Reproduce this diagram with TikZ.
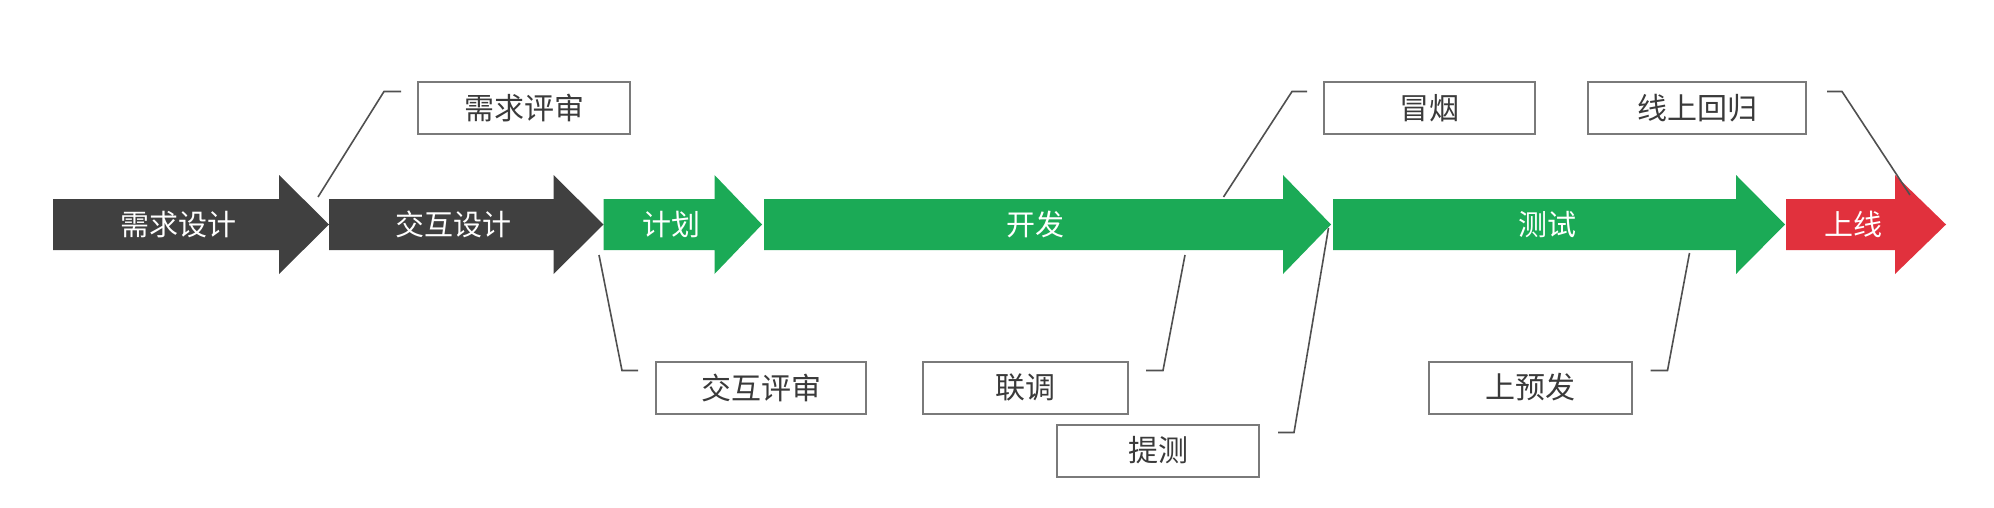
\documentclass[tikz,border=0pt]{standalone}
\usepackage{fontspec}
\setmainfont{Noto Sans CJK SC}
\usetikzlibrary{calc}
\definecolor{darkarrow}{HTML}{404040}
\definecolor{greenarrow}{HTML}{1BAA56}
\definecolor{redarrow}{HTML}{E1313D}
\definecolor{boxline}{HTML}{7A7A7A}
\definecolor{boxtext}{HTML}{3A3A3A}
\definecolor{leader}{HTML}{505050}
\tikzset{
  arrowtext/.style={text=white, font=\fontsize{29}{32}\selectfont, inner sep=0pt},
  labelbox/.style={draw=boxline, line width=2pt, fill=white, text=boxtext,
    font=\fontsize{30}{33}\selectfont, inner sep=0pt, minimum height=52pt},
  leaderline/.style={draw=leader, line width=1.6pt},
}
% arrow: #1 colour, #2 body start x, #3 head start x, #4 tip x
\newcommand{\flowarrow}[4]{%
  \fill[#1] (#2,199) -- (#3,199) -- (#3,175) -- (#4,224.5) -- (#3,274) -- (#3,250) -- (#2,250) -- cycle;}
\begin{document}
\begin{tikzpicture}[x=1pt,y=-1pt]
\useasboundingbox[fill=white] (0,0) rectangle (1994,508);
% arrows
\flowarrow{darkarrow}{53}{279}{329}
\flowarrow{darkarrow}{329}{553.5}{603.5}
\flowarrow{greenarrow}{603.5}{714.5}{762}
\flowarrow{greenarrow}{764}{1283}{1331}
\flowarrow{greenarrow}{1333}{1736}{1785}
\flowarrow{redarrow}{1786}{1895}{1946}
\node[arrowtext] (xqsj) at (178,224.5) {需求设计};
\node[arrowtext] (jhsj) at (453,224.5) {交互设计};
\node[arrowtext] (jh) at (671,224.5) {计划};
\node[arrowtext] (kf) at (1035,224.5) {开发};
\node[arrowtext] (cs) at (1547,224.5) {测试};
\node[arrowtext] (sx) at (1853,224.5) {上线};
% label boxes
\node[labelbox, minimum width=212pt] (xqps) at (524,108.5) {需求评审};
\node[labelbox, minimum width=211pt] (my) at (1429.5,108.5) {冒烟};
\node[labelbox, minimum width=218pt] (xshg) at (1697,108.5) {线上回归};
\node[labelbox, minimum width=210pt] (jhps) at (761,387.5) {交互评审};
\node[labelbox, minimum width=205pt] (lt) at (1025.5,387.5) {联调};
\node[labelbox, minimum width=203pt] (syf) at (1530.5,387.5) {上预发};
\node[labelbox, minimum width=202pt] (tc) at (1158,450.5) {提测};
% leader start points on the arrows
\coordinate (p1) at (318,197);
\coordinate (p2) at (599,255);
\coordinate (p3) at (1223.5,197);
\coordinate (p4) at (1185,255);
\coordinate (p5) at (1328.5,228);
\coordinate (p6) at (1689.5,253);
\coordinate (p7) at (1910,195);
% leaders
\draw[leaderline] (p1) -- ($(xqps.north west)+(-33,10)$) -- ($(xqps.north west)+(-16,10)$);
\draw[leaderline] (p2) -- ($(jhps.north west)+(-33,10)$) -- ($(jhps.north west)+(-17,10)$);
\draw[leaderline] (p3) -- ($(my.north west)+(-31,10)$) -- ($(my.north west)+(-16,10)$);
\draw[leaderline] (p4) -- ($(lt.north east)+(34,10)$) -- ($(lt.north east)+(17,10)$);
\draw[leaderline] (p5) -- ($(tc.north east)+(34,9)$) -- ($(tc.north east)+(18,9)$);
\draw[leaderline] (p6) -- ($(syf.north east)+(34.5,10)$) -- ($(syf.north east)+(17.5,10)$);
\draw[leaderline] ($(xshg.north east)+(20,10)$) -- ($(xshg.north east)+(35,10)$) -- (p7);
\end{tikzpicture}
\end{document}
